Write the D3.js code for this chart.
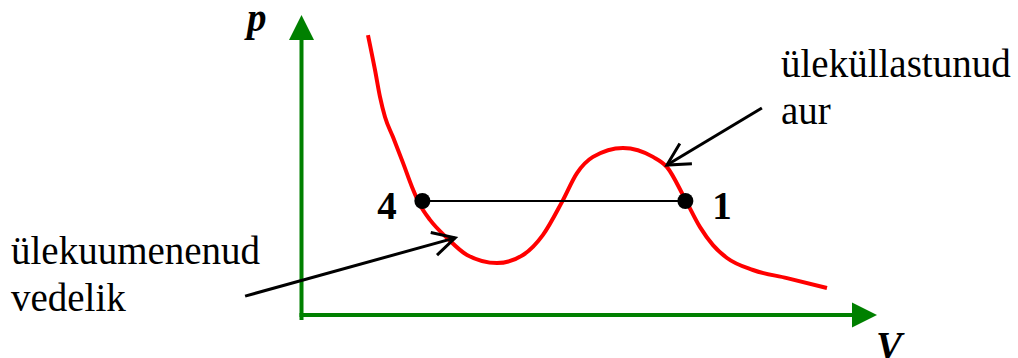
<!DOCTYPE html>
<html>
<head>
<meta charset="utf-8">
<script src="https://cdn.jsdelivr.net/npm/d3@7"></script>
<style>
  body { margin: 0; background: #fff; }
</style>
</head>
<body>
<div id="chart"></div>
<script>
// isotherm points (V, p in arbitrary units 0..100)
const curveV = [11.55, 12.77, 13.64, 14.51, 15.9, 17.64, 19.2, 20.59, 22.33, 25.28, 28.76, 33.97, 38.49, 41.96, 45.27, 47.87, 50.65, 55.86, 61.08, 63.51, 66.64, 69.25, 71.5, 73.94, 78.45, 84.36, 91.31];
const curveP = [93.3, 81.7, 72.7, 66.0, 59.3, 50.7, 42.7, 36.7, 31.7, 25.7, 20.0, 17.3, 20.0, 26.7, 37.7, 47.3, 52.7, 55.7, 52.7, 49.3, 38.7, 29.3, 23.3, 19.0, 15.0, 12.3, 9.0];

// states 4 and 1 on the equal-pressure line
const pointNames = ["4", "1"];
const pointV = [21.0, 66.7];
const pointP = [38.0, 38.0];

// annotation arrows: from -> to
const arrowFromV = [80.0, -9.8];
const arrowFromP = [69.0, 6.3];
const arrowToV = [63.5, 26.7];
const arrowToP = [50.0, 25.7];

const labelLines = [["ülekuumenenud", "vedelik"], ["üleküllastunud", "aur"]];

const width = 1018, height = 358;
const serif = "Liberation Serif";

// make sure the serif faces are picked up before drawing
const ctx = document.createElement("canvas").getContext("2d");
["39px", "bold 39px", "italic bold 39px"].forEach(f => {
    ctx.font = `${f} "${serif}"`;
    ctx.measureText("ülekuumenenud vedelik aur 41pV");
});

const svg = d3.select("#chart").append("svg")
    .attr("width", width)
    .attr("height", height);

const x = d3.scaleLinear().domain([0, 100]).range([301.5, 877]);
const y = d3.scaleLinear().domain([0, 100]).range([315, 15]);

const green = "#008000";

// axes with arrow heads
svg.append("line")
    .attr("x1", x(0)).attr("y1", y(0) + 5)
    .attr("x2", x(0)).attr("y2", y(100) + 25)
    .attr("stroke", green).attr("stroke-width", 4);
svg.append("path")
    .attr("d", `M${x(0)},${y(100)} L${x(0) - 12.5},${y(100) + 25} L${x(0) + 12.5},${y(100) + 25}Z`)
    .attr("fill", green);

svg.append("line")
    .attr("x1", x(0) - 2).attr("y1", y(0))
    .attr("x2", x(100) - 25).attr("y2", y(0))
    .attr("stroke", green).attr("stroke-width", 4);
svg.append("path")
    .attr("d", `M${x(100)},${y(0)} L${x(100) - 25},${y(0) - 12.5} L${x(100) - 25},${y(0) + 12.5}Z`)
    .attr("fill", green);

svg.append("text")
    .attr("x", 247).attr("y", 31)
    .attr("font-family", serif)
    .attr("font-size", 39).attr("font-weight", "bold").attr("font-style", "italic")
    .text("p");
svg.append("text")
    .attr("x", 876).attr("y", 359)
    .attr("font-family", serif)
    .attr("font-size", 39).attr("font-weight", "bold").attr("font-style", "italic")
    .text("V");

// the isotherm
const curveData = curveV.map((v, i) => [v, curveP[i]]);
const line = d3.line()
    .x(d => x(d[0]))
    .y(d => y(d[1]))
    .curve(d3.curveMonotoneX);

svg.append("path")
    .datum(curveData)
    .attr("d", line)
    .attr("fill", "none")
    .attr("stroke", "#ff0000")
    .attr("stroke-width", 4);

// horizontal line 4-1
svg.append("line")
    .attr("x1", x(pointV[0])).attr("y1", y(pointP[0]))
    .attr("x2", x(pointV[1])).attr("y2", y(pointP[1]))
    .attr("stroke", "#000").attr("stroke-width", 2);

svg.selectAll(".pt")
    .data(pointNames)
    .join("circle")
    .attr("class", "pt")
    .attr("cx", (d, i) => x(pointV[i]))
    .attr("cy", (d, i) => y(pointP[i]))
    .attr("r", 8)
    .attr("fill", "#000");

svg.selectAll(".ptlabel")
    .data(pointNames)
    .join("text")
    .attr("class", "ptlabel")
    .attr("x", (d, i) => i === 0 ? x(pointV[i]) - 45 : x(pointV[i]) + 27)
    .attr("y", (d, i) => y(pointP[i]) + 18)
    .attr("font-family", serif)
    .attr("font-size", 39)
    .attr("font-weight", "bold")
    .text(d => d);

// arrows
arrowFromV.forEach((v, i) => {
    const x1 = x(v), y1 = y(arrowFromP[i]);
    const x2 = x(arrowToV[i]), y2 = y(arrowToP[i]);
    const ang = Math.atan2(y1 - y2, x1 - x2);
    const len = 25, spread = 28 * Math.PI / 180;
    const g = svg.append("g")
        .attr("stroke", "#000").attr("stroke-width", 3).attr("fill", "none");
    g.append("line").attr("x1", x1).attr("y1", y1).attr("x2", x2).attr("y2", y2);
    g.append("path")
        .attr("d", `M${x2 + len * Math.cos(ang - spread)},${y2 + len * Math.sin(ang - spread)} L${x2},${y2} L${x2 + len * Math.cos(ang + spread)},${y2 + len * Math.sin(ang + spread)}`);
});

// text labels, one text element per line
const labelX = [11, 781];
const labelY = [264, 77];
labelLines.forEach((lines, i) => {
    lines.forEach((t, j) => {
        svg.append("text")
            .attr("x", labelX[i])
            .attr("y", labelY[i] + j * 47)
            .attr("font-family", serif)
            .attr("font-size", 39)
            .text(t);
    });
});
</script>
</body>
</html>
